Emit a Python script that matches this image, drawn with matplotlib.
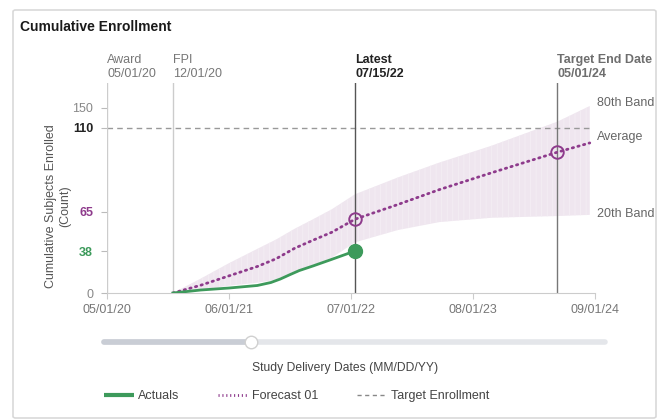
import matplotlib
matplotlib.use('Agg')
import matplotlib.pyplot as plt
import matplotlib.transforms as mtransforms
from matplotlib.lines import Line2D
from matplotlib.patches import FancyBboxPatch
import numpy as np
import pandas as pd

plt.rcParams['font.family'] = ['Liberation Sans', 'DejaVu Sans']
plt.rcParams['hatch.linewidth'] = 0.6

# ---- data ----
milestone_names = ['Award', 'FPI', 'Latest', 'Target End Date']
milestone_dates = pd.to_datetime(['2020-05-01', '2020-12-01', '2022-07-15', '2024-05-01'])

forecast_dates = pd.to_datetime(['2020-12-01', '2021-03-01', '2021-06-01', '2021-09-01',
                                 '2021-11-01', '2022-01-01', '2022-03-01', '2022-05-01',
                                 '2022-07-15', '2022-12-01', '2023-04-15', '2023-10-01',
                                 '2024-05-01', '2024-08-15'])
forecast_avg = [0, 7, 15.5, 24, 31, 40, 45.5, 51, 60, 69, 77, 86, 97, 102]
forecast_p80 = [0, 13, 27, 39.5, 46, 53.5, 60, 66.5, 74.5, 83.5, 91.5, 100.5, 122.5, 154]
forecast_p20 = [0, 2.7, 6.6, 9.3, 11.8, 19, 25.3, 32, 44, 52.5, 58, 61, 62.2, 63]

actual_dates = pd.to_datetime(['2020-12-01', '2021-03-01', '2021-06-01', '2021-09-01',
                               '2021-10-15', '2021-11-15', '2021-12-15', '2022-01-15',
                               '2022-03-01', '2022-05-01', '2022-07-15'])
actual_values = [0, 2.7, 4.5, 6.8, 9.5, 12.7, 16.5, 20.3, 24.5, 30.5, 38]

target_enrollment = 110
y_ticks = [0, 38, 65, 110, 150]
x_ticks = pd.to_datetime(['2020-05-01', '2021-06-01', '2022-07-01', '2023-08-01', '2024-09-01'])
band_labels = ['80th Band', 'Average', '20th Band']

# the axis in the reference is stretched unevenly; rebuild it as a piecewise scale
scale_vals = [0, 38, 65, 110, 150, 200]
scale_pos = [0, 42, 81, 165, 185, 210]


def fwd(v):
    return np.interp(v, scale_vals, scale_pos)


def inv(p):
    return np.interp(p, scale_pos, scale_vals)


purple = '#8e3b8c'
green = '#3d9a5b'

W, H = 662, 420
fig = plt.figure(figsize=(W / 100, H / 100), dpi=100)

# card frame
card = FancyBboxPatch((13 / W, 1 - 418 / H), 643 / W, 408 / H,
                      boxstyle='round,pad=0,rounding_size=0.004',
                      transform=fig.transFigure, facecolor='none',
                      edgecolor='#d9d9d9', lw=1.2, zorder=-5)
fig.patches.append(card)
fig.text(20 / W, 1 - 27 / H, 'Cumulative Enrollment', fontsize=10,
         fontweight='bold', color='#1a1a1a', va='center', ha='left')

ax = fig.add_axes([107 / W, 1 - 293 / H, 488 / W, 210 / H])
ax.set_yscale('function', functions=(fwd, inv))
ax.set_ylim(0, 200)
ax.set_xlim(x_ticks[0], x_ticks[-1])
ax.patch.set_alpha(0)

for s in ['top', 'right', 'left']:
    ax.spines[s].set_visible(False)
ax.spines['bottom'].set_color('#cccccc')

# forecast band
ax.fill_between(forecast_dates, forecast_p20, forecast_p80, facecolor='#efe6ef',
                edgecolor='#f4eef4', hatch='|||', lw=0, zorder=1)

# target enrollment
ax.plot([x_ticks[0], forecast_dates[-1]], [target_enrollment, target_enrollment],
        color='#999999', lw=1, linestyle=(0, (4, 3)), zorder=2)

# milestone lines
ml_colors = ['#cccccc', '#cccccc', '#555555', '#777777']
ml_text_colors = ['#777777', '#777777', '#222222', '#6e6e6e']
ml_weights = ['normal', 'normal', 'bold', 'bold']
trans = mtransforms.blended_transform_factory(ax.transData, ax.transAxes)
for name, d, c, tc, w in zip(milestone_names, milestone_dates, ml_colors,
                             ml_text_colors, ml_weights):
    ax.axvline(d, color=c, lw=1, zorder=2)
    ax.text(d, 1.012, f'{name}\n{d.strftime("%m/%d/%y")}', transform=trans,
            ha='left', va='bottom', fontsize=9, color=tc, fontweight=w,
            linespacing=1.3)

# forecast average
ax.plot(forecast_dates, forecast_avg, color=purple, lw=2,
        linestyle=(0, (0.5, 1.6)), dash_capstyle='round', zorder=3)
for d in milestone_dates[2:]:
    ax.plot([d], [np.interp(d.value, forecast_dates.astype('int64'), forecast_avg)],
            marker='o', ms=9, mfc='none', mec=purple, mew=1.4, zorder=4)

# actuals
ax.plot(actual_dates, actual_values, color=green, lw=2, zorder=4)
ax.plot(actual_dates[-1:], actual_values[-1:], marker='o', ms=10, color=green, zorder=5)

# axes ticks
ax.set_xticks(x_ticks)
ax.set_xticklabels([d.strftime('%m/%d/%y') for d in x_ticks])
ax.tick_params(axis='x', length=4, color='#cccccc', labelsize=9,
               labelcolor='#777777', pad=4)
ax.set_yticks(y_ticks)
ax.set_yticklabels([str(v) for v in y_ticks])
ax.yaxis.set_minor_locator(matplotlib.ticker.NullLocator())
ax.tick_params(axis='y', length=4, color='#bbbbbb', labelsize=9, pad=6)
tick_colors = ['#888888', green, purple, '#222222', '#888888']
tick_weights = ['normal', 'bold', 'bold', 'bold', 'normal']
for lab, c, w in zip(ax.get_yticklabels(), tick_colors, tick_weights):
    lab.set_color(c)
    lab.set_fontweight(w)

# band labels on the right
for lab, y in zip(band_labels, [103, 137, 214]):
    fig.text(597 / W, 1 - y / H, lab, fontsize=9, color='#666666',
             ha='left', va='center')

fig.text(58 / W, 1 - 206 / H, 'Cumulative Subjects Enrolled\n(Count)', rotation=90,
         ha='center', va='center', multialignment='center', fontsize=9,
         color='#555555')
fig.text(345 / W, 1 - 368 / H, 'Study Delivery Dates (MM/DD/YY)', fontsize=8.7,
         color='#444444', ha='center', va='center')

# range slider under the axis
sy = 1 - 342 / H
fig.add_artist(Line2D([104 / W, 605 / W], [sy, sy], transform=fig.transFigure,
                      color='#e4e6ea', lw=4, solid_capstyle='round'))
fig.add_artist(Line2D([104 / W, 251 / W], [sy, sy], transform=fig.transFigure,
                      color='#c9cdd5', lw=4, solid_capstyle='round'))
fig.add_artist(Line2D([251 / W], [sy], transform=fig.transFigure, marker='o',
                      ms=9, mfc='white', mec='#d0d0d0', mew=1))

# legend
handles = [Line2D([], [], color=green, lw=3, solid_capstyle='butt'),
           Line2D([], [], color=purple, lw=2, linestyle=(0, (0.4, 1.0))),
           Line2D([], [], color='#888888', lw=1, linestyle=(0, (3, 2.5)))]
fig.legend(handles, ['Actuals', 'Forecast 01', 'Target Enrollment'], ncol=3,
           loc='center left', bbox_to_anchor=(93 / W, 1 - 396 / H), frameon=False,
           fontsize=9, handlelength=2.4, handletextpad=0.3, columnspacing=3.1,
           labelcolor='#444444')

fig.savefig('out.png', dpi=100)
